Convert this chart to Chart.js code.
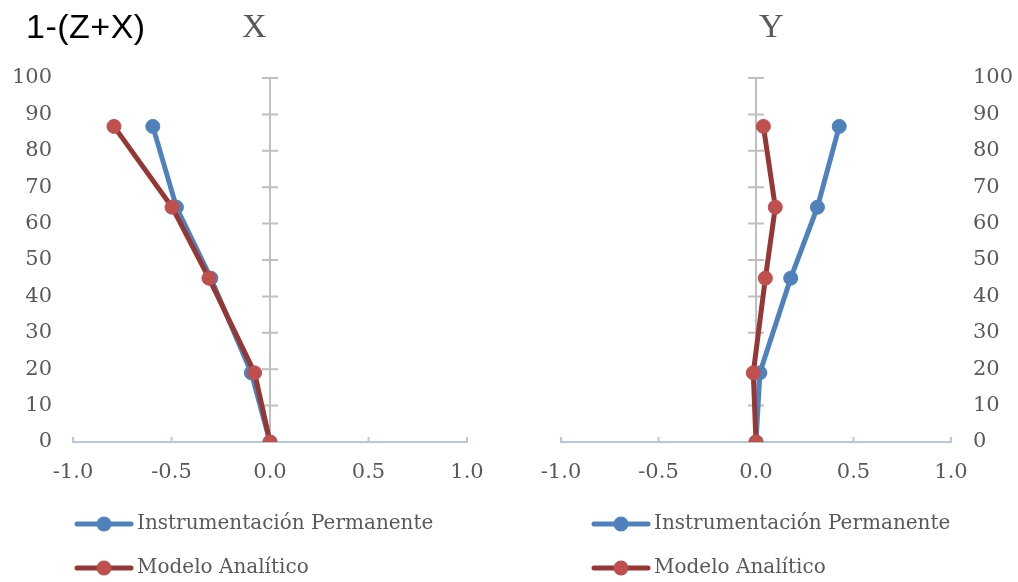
<!DOCTYPE html>
<html>
<head>
<meta charset="utf-8">
<script src="https://cdn.jsdelivr.net/npm/chart.js@4"></script>
<style>
    body { margin: 0; background: #fff; }
    #wrap { position: relative; width: 1018px; height: 582px; overflow: hidden; }
    .panel { position: absolute; top: 0; width: 509px; height: 582px; }
    .ttl { position: absolute; white-space: nowrap; line-height: 1; }
</style>
</head>
<body>
<div id="wrap">
    <div class="panel" style="left:0"><canvas id="chartX" width="509" height="582"></canvas></div>
    <div class="panel" style="left:509px"><canvas id="chartY" width="509" height="582"></canvas></div>
    <div class="ttl" style="left:26px; top:7px; font: 34px 'Liberation Sans', Arial, sans-serif; letter-spacing: 0.5px; color:#000;">1-(Z+X)</div>
    <div class="ttl" style="left:242px; top:7px; font: 34px 'Liberation Serif', serif; color:#595959;">X</div>
    <div class="ttl" style="left:759px; top:7px; font: 34px 'Liberation Serif', serif; color:#595959;">Y</div>
</div>
<script>
var heights = [0, 19, 45, 64.5, 86.7];
var seriesNames = ['Instrumentación Permanente', 'Modelo Analítico'];

var xInstrument = [0, -0.095, -0.30, -0.475, -0.595];
var xModel = [0, -0.078, -0.31, -0.497, -0.792];
var yInstrument = [0, 0.02, 0.178, 0.315, 0.427];
var yModel = [0, -0.014, 0.048, 0.099, 0.038];

var xTickMin = -1, xTickMax = 1, xTickStep = 0.5;
var yTickMin = 0, yTickMax = 100, yTickStep = 10;

var BLUE = '#4f81bd';
var RED_LINE = '#953735';
var RED_DOT = '#c0504d';
var TEXT = '#595959';
var FONT = { family: "'DejaVu Serif', serif", size: 21 };
var LEGEND_FONT = "20px 'DejaVu Serif', serif";

function toPoints(xs) {
    return xs.map(function (v, i) { return { x: v, y: heights[i] }; });
}

// gray vertical axis at x = 0 with cross ticks, small upward ticks on the bottom axis
var crossAxis = {
    id: 'crossAxis',
    beforeDatasetsDraw: function (chart) {
        var ctx = chart.ctx, x = chart.scales.x, y = chart.scales.y;
        var x0 = x.getPixelForValue(0);
        ctx.save();
        ctx.lineWidth = 2;
        ctx.strokeStyle = '#bfbfbf';
        ctx.beginPath();
        ctx.moveTo(x0, y.top);
        ctx.lineTo(x0, y.bottom);
        y.ticks.forEach(function (t) {
            var py = y.getPixelForValue(t.value);
            ctx.moveTo(x0 - 8, py);
            ctx.lineTo(x0 + 8, py);
        });
        ctx.stroke();
        ctx.strokeStyle = '#b4c7e7';
        ctx.beginPath();
        x.ticks.forEach(function (t) {
            var px = x.getPixelForValue(t.value);
            ctx.moveTo(px, y.bottom);
            ctx.lineTo(px, y.bottom - 5);
        });
        ctx.stroke();
        ctx.restore();
    }
};

// legend: one row per series, line with a dot
var lineLegend = {
    id: 'lineLegend',
    afterDraw: function (chart, args, opts) {
        var ctx = chart.ctx;
        ctx.save();
        chart.data.datasets.forEach(function (ds, i) {
            var cy = opts.top + i * opts.gap;
            ctx.strokeStyle = ds.borderColor;
            ctx.lineWidth = 5;
            ctx.lineCap = 'round';
            ctx.beginPath();
            ctx.moveTo(opts.left, cy);
            ctx.lineTo(opts.left + 54, cy);
            ctx.stroke();
            ctx.fillStyle = ds.pointBackgroundColor;
            ctx.beginPath();
            ctx.arc(opts.left + 27, cy, 7.5, 0, Math.PI * 2);
            ctx.fill();
            ctx.fillStyle = TEXT;
            ctx.font = LEGEND_FONT;
            ctx.textBaseline = 'middle';
            ctx.fillText(ds.label, opts.left + 60, cy);
        });
        ctx.restore();
    }
};

function makeChart(id, blueXs, redXs, side) {
    var left = side === 'left';
    return new Chart(document.getElementById(id), {
        type: 'scatter',
        data: {
            datasets: [{
                label: seriesNames[0],
                data: toPoints(blueXs),
                showLine: true,
                borderColor: BLUE,
                borderWidth: 5,
                pointBackgroundColor: BLUE,
                pointBorderColor: BLUE,
                pointRadius: 7,
                pointBorderWidth: 1,
                order: 1
            }, {
                label: seriesNames[1],
                data: toPoints(redXs),
                showLine: true,
                borderColor: RED_LINE,
                borderWidth: 5,
                pointBackgroundColor: RED_DOT,
                pointBorderColor: RED_DOT,
                pointRadius: 7,
                pointBorderWidth: 1,
                order: 0
            }]
        },
        options: {
            responsive: false,
            animation: false,
            layout: { padding: { left: left ? 0 : 52, right: left ? 42 : 0, top: 78, bottom: 92 } },
            plugins: {
                legend: { display: false },
                tooltip: { enabled: false },
                lineLegend: { left: left ? 77 : 594 - 509, top: 524, gap: 44 }
            },
            scales: {
                x: {
                    type: 'linear',
                    min: xTickMin, max: xTickMax,
                    ticks: { stepSize: xTickStep, color: TEXT, font: FONT, padding: 18, callback: function (v) { return v.toFixed(1); } },
                    grid: { display: true, color: 'rgba(0,0,0,0)', drawTicks: false },
                    border: { color: '#b4c7e7', width: 2 },
                    afterFit: function (s) { s.height = 48; }
                },
                y: {
                    position: side,
                    min: yTickMin, max: yTickMax,
                    ticks: { stepSize: yTickStep, color: TEXT, font: FONT, padding: left ? 21 : 22 },
                    grid: { display: false, drawTicks: false },
                    border: { display: false },
                    afterFit: function (s) { s.width = left ? 73 : 67; }
                }
            }
        },
        plugins: [crossAxis, lineLegend]
    });
}

makeChart('chartX', xInstrument, xModel, 'left');
makeChart('chartY', yInstrument, yModel, 'right');
</script>
</body>
</html>
